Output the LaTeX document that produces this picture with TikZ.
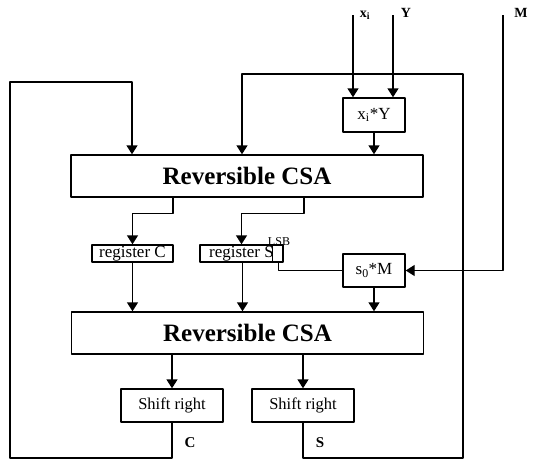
\documentclass[tikz,border=0pt]{standalone}
\usepackage{fontspec}
\setmainfont{Liberation Serif}
\usetikzlibrary{arrows.meta}
\begin{document}
\begin{tikzpicture}[line join=round,x=1pt,y=-1pt,line width=1.4pt,
    >={Triangle[width=11pt,length=9pt]},
    box/.style={draw,inner sep=0pt,font=\fontsize{16.5}{16.5}\selectfont},
    csabox/.style={draw,inner sep=0pt,minimum width=352pt,minimum height=42pt,font=\bfseries\fontsize{25}{25}\selectfont},
    regbox/.style={draw,inner sep=0pt,minimum height=17pt,text height=10pt,text depth=2pt,font=\fontsize{17}{17}\selectfont},
    sig/.style={font=\bfseries\fontsize{14}{14}\selectfont}]
    \useasboundingbox (0,0) rectangle (533,459);
    %Các khối
    \node[box,minimum width=62pt,minimum height=34pt,font=\fontsize{17}{17}\selectfont] (mulxy) at (374,115) {x\textsubscript{i}*Y};
    \node[csabox] (csa1) at (247,176) {Reversible CSA};
    \node[regbox,minimum width=81pt] (regc) at (132.5,253.5) {register C};
    \node[regbox,minimum width=83pt] (regs) at (241.5,253.5) {register S\hspace{11pt}};
    \node[box,minimum width=62pt,minimum height=33pt,font=\fontsize{17}{17}\selectfont] (mulsm) at (374,270.5) {s\textsubscript{0}*M};
    \node[csabox] (csa2) at (247.5,333) {Reversible CSA};
    \node[box,minimum width=102pt,minimum height=33pt] (shc) at (172,405.5) {Shift right};
    \node[box,minimum width=102pt,minimum height=33pt] (shs) at (303,405.5) {Shift right};
    %Ô LSB
    \draw ([xshift=-11pt]regs.north east) -- ([xshift=-11pt]regs.south east);
    \node[font=\fontsize{12}{12}\selectfont,inner sep=0pt] (lsb) at (279,242) {LSB};
    %Nhãn tín hiệu
    \coordinate (xin) at (353,15);
    \coordinate (yin) at (393,15);
    \coordinate (min) at (503,15);
    \node[sig] (labx) at (365,15) {x\textsubscript{i}};
    \node[sig] (laby) at (406,13) {Y};
    \node[sig] (labm) at (521,13) {M};
    \node[sig,font=\bfseries\fontsize{15}{15}\selectfont] (labc) at (190,443) {C};
    \node[sig,font=\bfseries\fontsize{15}{15}\selectfont] (labs) at (320,443) {S};
    %Đầu vào
    \draw[->] (xin) -- (xin |- mulxy.north);
    \draw[->] (yin) -- (yin |- mulxy.north);
    \draw[->] (min) |- (mulsm.east);
    \draw[->] (mulxy.south) -- (mulxy.south |- csa1.north);
    %Ra của CSA thứ nhất
    \draw[->] ([xshift=-74pt]csa1.south) -- ++(0,16) -| (regc.north);
    \draw[->] ([xshift=57pt]csa1.south) -- ++(0,16) -| (regs.north);
    \draw ([xshift=-5pt]regs.south east) |- (mulsm.west);
    %Vào CSA thứ hai
    \draw[->] (regc.south) -- (regc.south |- csa2.north);
    \draw[->] ([xshift=1pt]regs.south) -- ([xshift=1pt]regs.south |- csa2.north);
    \draw[->] (mulsm.south) -- (mulsm.south |- csa2.north);
    \draw[->] (shc.north |- csa2.south) -- (shc.north);
    \draw[->] (shs.north |- csa2.south) -- (shs.north);
    %Vòng phản hồi
    \coordinate (fbc) at (132,82);
    \coordinate (fbs) at (242,74);
    \draw[->] (shc.south) |- (10,458) |- (fbc) -- (fbc |- csa1.north);
    \draw[->] (shs.south) |- (463,458) |- (fbs) -- (fbs |- csa1.north);
\end{tikzpicture}
\end{document}
